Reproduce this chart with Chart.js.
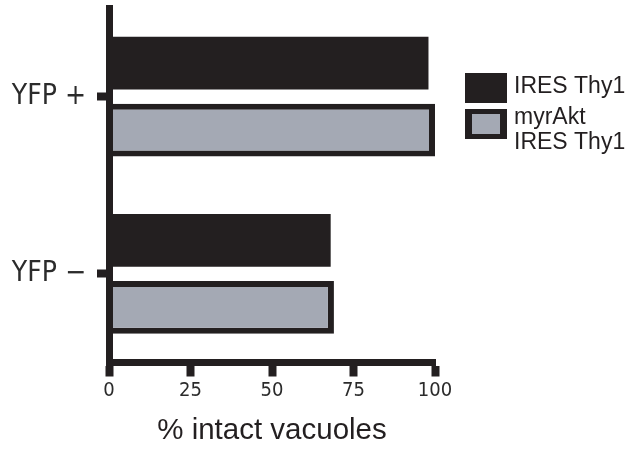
<!DOCTYPE html>
<html>
<head>
<meta charset="utf-8">
<script src="https://cdn.jsdelivr.net/npm/chart.js@4.4.1/dist/chart.umd.min.js"></script>
<style>
  html, body { margin: 0; padding: 0; background: #ffffff; }
  #wrap { width: 634px; height: 451px; }
</style>
</head>
<body>
<div id="wrap"><canvas id="c" width="634" height="451"></canvas></div>
<script>
// Categories (horizontal bar rows) and the two series
const categories = ['YFP +', 'YFP \u2212'];
const seriesLabels = [['IRES Thy1'], ['myrAkt', 'IRES Thy1']];
const iresThy1 = [98, 68];
const myrAktIresThy1 = [100, 69];
const xTickValues = [0, 25, 50, 75, 100];
const xTitle = '% intact vacuoles';

const INK = '#231f20';
const GREY = '#a4a9b4';
const narrowFont = '"DejaVu Sans Condensed", "Liberation Sans", Arial, sans-serif';
const plainFont = '"Liberation Sans", Arial, sans-serif';

// Legend drawn to the right of the plot, one box per dataset
const boxLegend = {
  id: 'boxLegend',
  afterDraw(chart) {
    const ctx = chart.ctx;
    const x = 465, w = 42, h = 30, gap = 6, lineStep = 25;
    let y = 73;
    chart.data.datasets.forEach((ds) => {
      const lines = Array.isArray(ds.label) ? ds.label : [ds.label];
      ctx.save();
      if (ds.borderWidth) {
        ctx.fillStyle = ds.borderColor;
        ctx.fillRect(x, y, w, h);
        ctx.fillStyle = ds.backgroundColor;
        ctx.fillRect(x + 7, y + 5, w - 14, h - 10);
      } else {
        ctx.fillStyle = ds.backgroundColor;
        ctx.fillRect(x, y, w, h);
      }
      ctx.fillStyle = INK;
      ctx.font = '23px ' + plainFont;
      ctx.textBaseline = 'middle';
      ctx.textAlign = 'left';
      const first = y + h / 2 - 1 - (lines.length - 1) * 5;
      lines.forEach((t, j) => ctx.fillText(t, 514, first + j * lineStep));
      ctx.restore();
      y += h + gap;
    });
  }
};

new Chart(document.getElementById('c'), {
  type: 'bar',
  data: {
    labels: categories,
    datasets: [
      {
        label: seriesLabels[0],
        data: iresThy1,
        backgroundColor: INK,
        borderWidth: 0,
        categoryPercentage: 0.755,
        barPercentage: 0.79
      },
      {
        label: seriesLabels[1],
        data: myrAktIresThy1,
        backgroundColor: GREY,
        borderColor: INK,
        borderWidth: 6,
        borderSkipped: 'start',
        categoryPercentage: 0.755,
        barPercentage: 0.79
      }
    ]
  },
  options: {
    indexAxis: 'y',
    responsive: false,
    animation: false,
    devicePixelRatio: 1,
    layout: { padding: { top: 8, right: 199, bottom: 0, left: 0 } },
    plugins: {
      legend: { display: false },
      tooltip: { enabled: false }
    },
    scales: {
      x: {
        type: 'linear',
        min: 0,
        max: 100,
        afterBuildTicks(scale) {
          scale.ticks = xTickValues.map(v => ({ value: v }));
        },
        afterFit(scale) {
          scale.height = 88.5;
          scale.paddingLeft = 0;
          scale.paddingRight = 0;
        },
        border: { display: true, color: INK, width: 7, z: 1 },
        grid: {
          z: 1,
          drawOnChartArea: false,
          drawTicks: true,
          tickLength: 14,
          tickWidth: 8,
          tickColor: INK
        },
        ticks: {
          padding: 2,
          color: '#2b2b2b',
          font: { family: narrowFont, size: 20 }
        },
        title: {
          display: true,
          text: xTitle,
          color: INK,
          padding: { top: 0, bottom: 2 },
          font: { family: plainFont, size: 29.5 }
        }
      },
      y: {
        type: 'category',
        offset: true,
        afterFit(scale) {
          scale.width = 109;
          scale.paddingTop = 0;
          scale.paddingBottom = 0;
        },
        border: { display: true, color: INK, width: 7, z: 1 },
        grid: {
          z: 1,
          offset: false,
          drawOnChartArea: false,
          drawTicks: true,
          tickLength: 12,
          tickWidth: 8,
          tickColor: INK
        },
        ticks: {
          padding: 11,
          color: '#2b2b2b',
          font: { family: narrowFont, size: 28 }
        }
      }
    }
  },
  plugins: [boxLegend]
});
</script>
</body>
</html>
